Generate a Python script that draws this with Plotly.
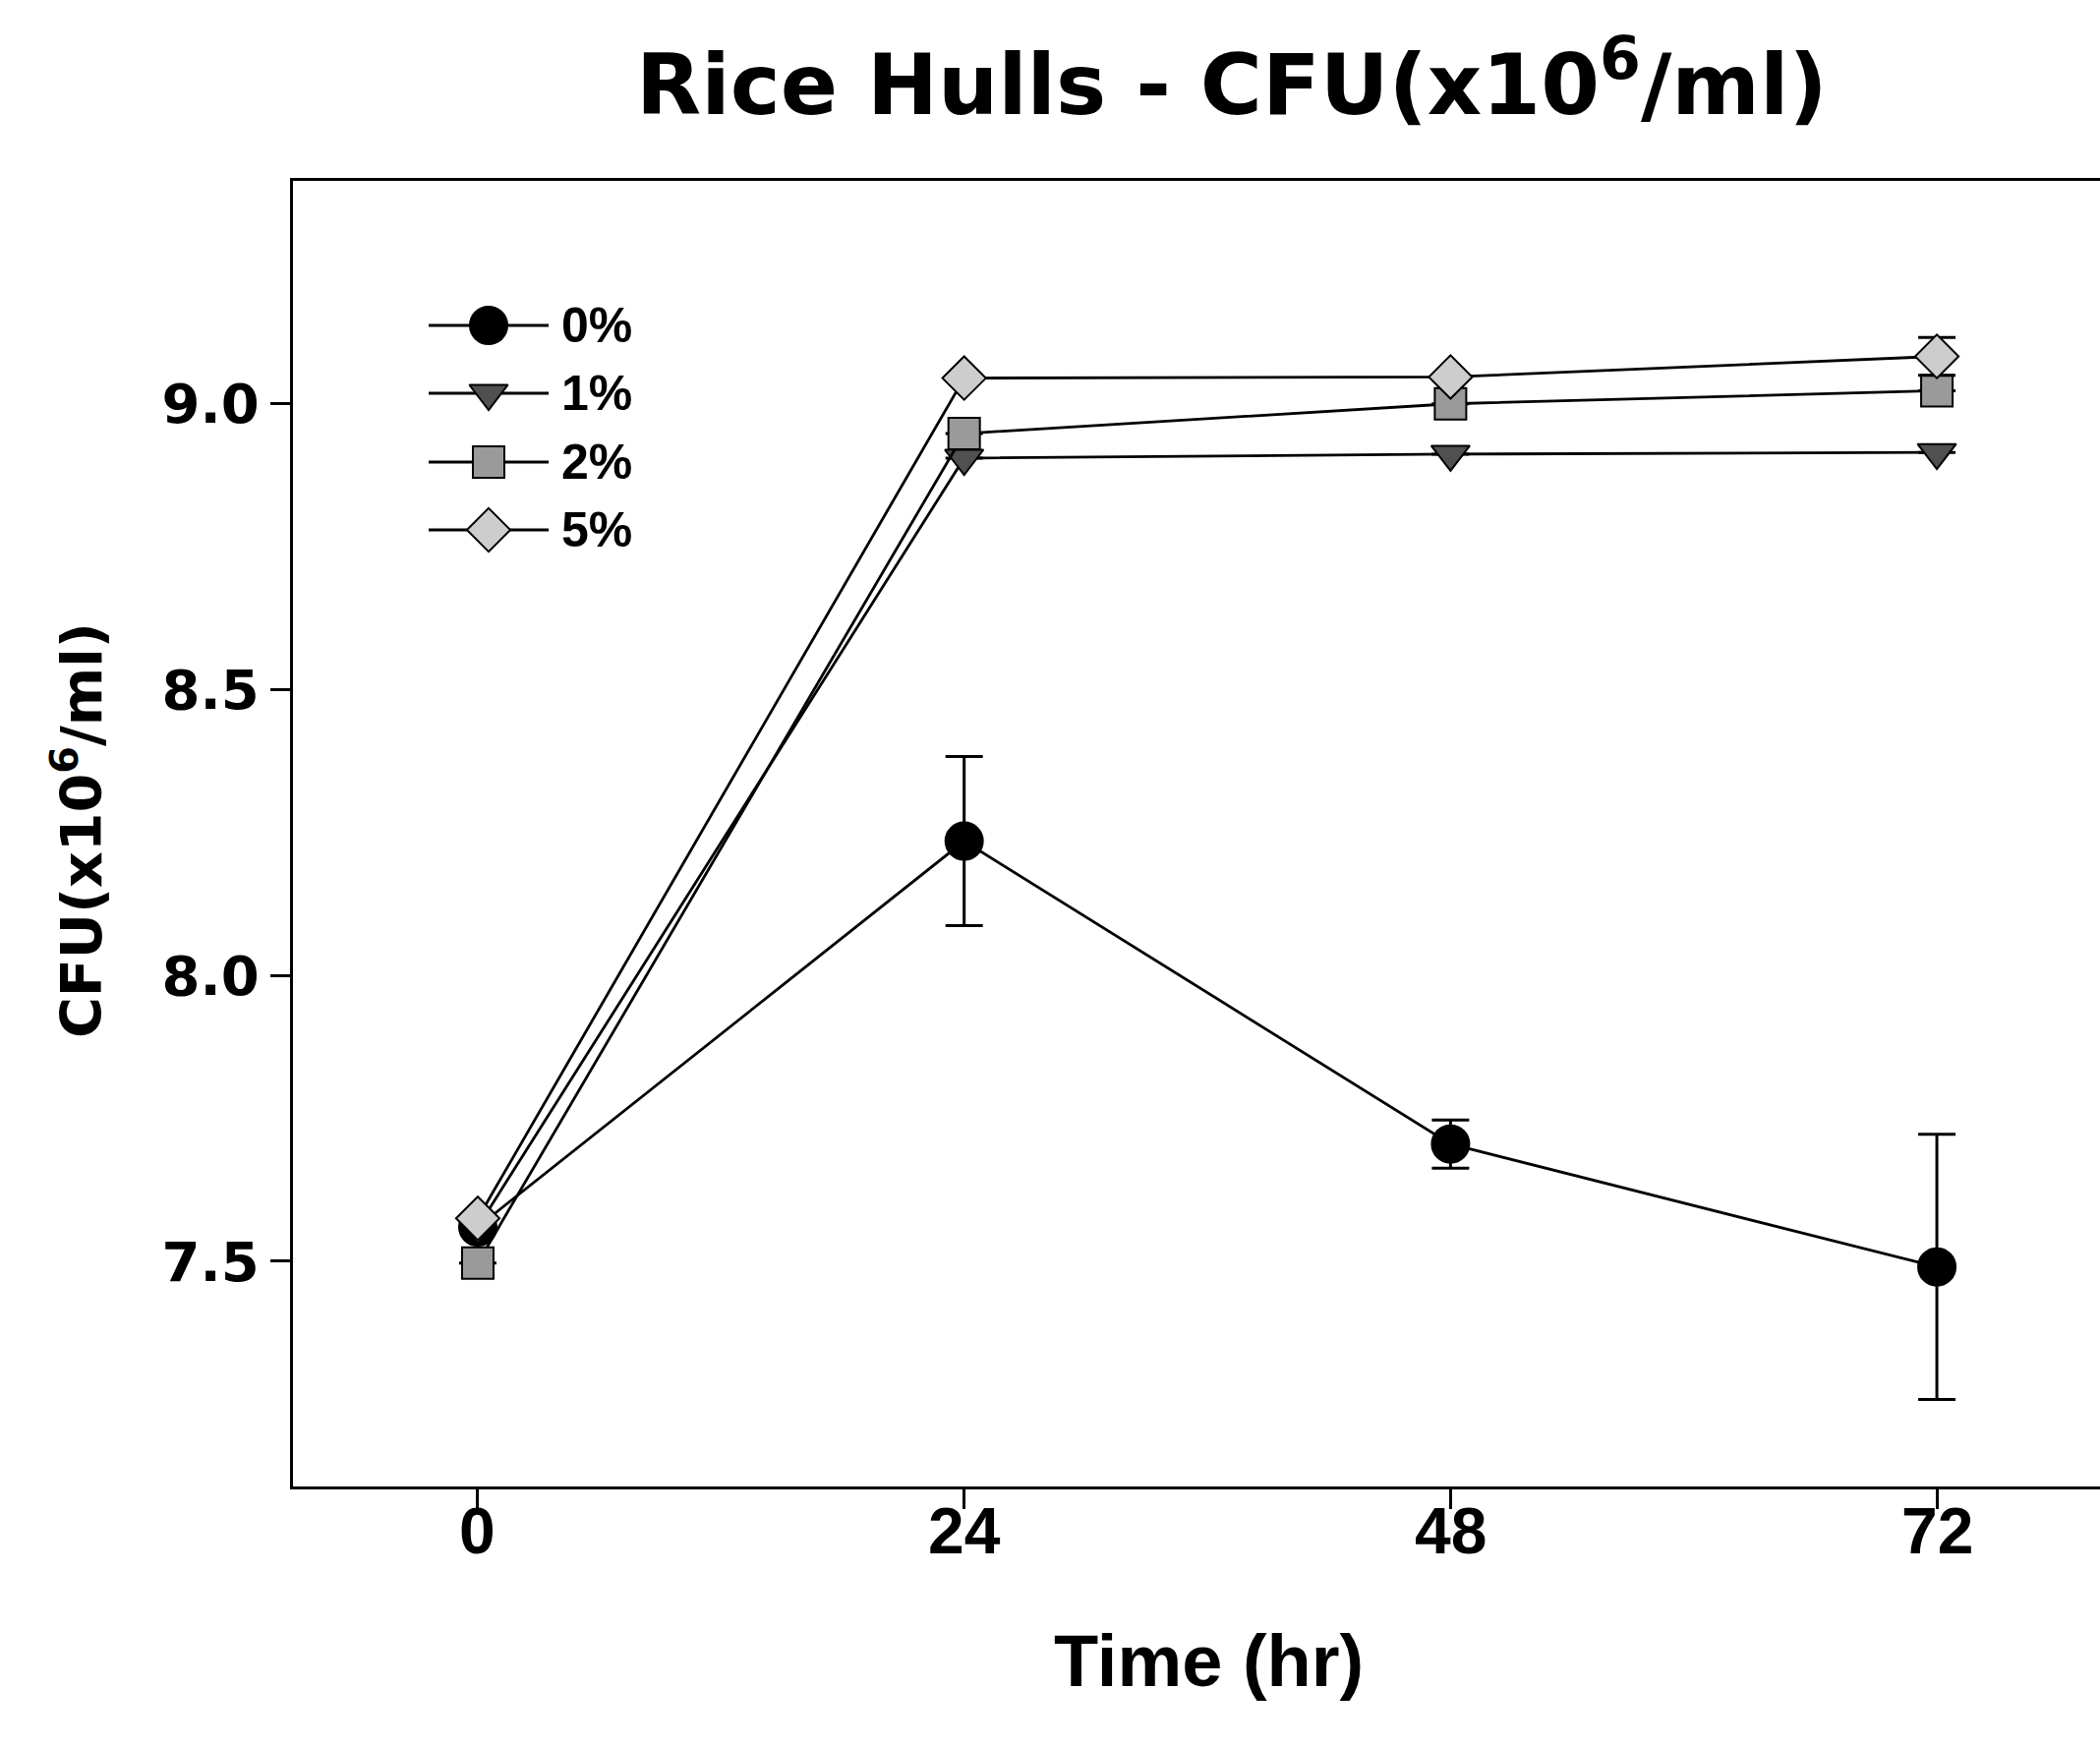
import plotly.graph_objects as go

# Sampling times (hr) and tick labels
time_hr = [0, 24, 48, 72]
x_tick_labels = ["0", "24", "48", "72"]
y_tick_vals = [7.5, 8.0, 8.5, 9.0]
y_tick_labels = ["7.5", "8.0", "8.5", "9.0"]

# CFU (x10^6/ml) per rice hull concentration
cfu_0pct = [7.56, 8.235, 7.705, 7.49]
err_0pct = [0.0, 0.148, 0.042, 0.232]
cfu_1pct = [7.56, 8.905, 8.912, 8.915]
err_1pct = [0.0, 0.0, 0.0, 0.0]
cfu_2pct = [7.497, 8.948, 9.0, 9.023]
err_2pct = [0.0, 0.0, 0.0, 0.0]
cfu_5pct = [7.575, 9.045, 9.047, 9.083]
err_5pct = [0.0, 0.0, 0.0, 0.033]

series_names = ["0%", "1%", "2%", "5%"]
series_values = [cfu_0pct, cfu_1pct, cfu_2pct, cfu_5pct]
series_errors = [err_0pct, err_1pct, err_2pct, err_5pct]
symbols = ["circle", "triangle-down", "square", "diamond"]
fills = ["#000000", "#505050", "#9a9a9a", "#cdcdcd"]
sizes = [38, 34, 32, 34]

W, H = 2136, 1777
L, R, T, B = 298, 0, 184, 265
plot_bottom = H - B
plot_w = W - L - R
plot_h = plot_bottom - T


def px_x(px):
    """Page pixel column -> paper x."""
    return (px - L) / plot_w


def px_y(py):
    """Page pixel row -> paper y."""
    return (plot_bottom - py) / plot_h


WIDE = "DejaVu Sans, Arial, sans-serif"
NARROW = "Liberation Sans, Arial, sans-serif"

fig = go.Figure()

for name, vals, errs, sym, fc, sz in zip(series_names, series_values, series_errors,
                                         symbols, fills, sizes):
    fig.add_trace(go.Scatter(
        x=time_hr, y=vals, name=name, mode="lines+markers",
        line=dict(color="black", width=2.8),
        marker=dict(symbol=sym, size=sz, color=fc,
                    line=dict(color="black", width=2)),
        error_y=dict(type="data", array=errs, visible=True,
                     color="black", thickness=3, width=19),
        showlegend=False,
    ))

# Legend drawn on a pixel-scaled overlay axis pair
legend_rows = [331, 400, 470, 539]
for name, sym, fc, sz, yy in zip(series_names, symbols, fills, sizes, legend_rows):
    fig.add_trace(go.Scatter(
        x=[436, 558], y=[yy, yy], mode="lines", xaxis="x2", yaxis="y2",
        line=dict(color="black", width=2.8), showlegend=False, hoverinfo="skip"))
    fig.add_trace(go.Scatter(
        x=[497], y=[yy], mode="markers", xaxis="x2", yaxis="y2",
        marker=dict(symbol=sym, size=sz, color=fc, line=dict(color="black", width=2)),
        showlegend=False, hoverinfo="skip"))
    fig.add_annotation(x=569, y=yy, xref="x2", yref="y2", text=f"<b>{name}</b>",
                       showarrow=False, xanchor="left", yanchor="middle",
                       font=dict(family=NARROW, size=50, color="black"))

# X tick labels
for tv, tl in zip(time_hr, x_tick_labels):
    fig.add_annotation(x=tv, y=px_y(1557), xref="x", yref="paper",
                       text=f"<b>{tl}</b>", showarrow=False,
                       xanchor="center", yanchor="middle",
                       font=dict(family=NARROW, size=66, color="black"))

# Title and axis titles
fig.add_annotation(x=px_x(1253), y=px_y(80), xref="paper", yref="paper",
                   text="<b>Rice Hulls - CFU(x10<sup>6</sup>/ml)</b>",
                   showarrow=False, xanchor="center", yanchor="middle",
                   font=dict(family=WIDE, size=86, color="black"))
fig.add_annotation(x=px_x(79), y=px_y(845), xref="paper", yref="paper",
                   text="<b>CFU(x10<sup>6</sup>/ml)</b>", textangle=-90,
                   showarrow=False, xanchor="center", yanchor="middle",
                   font=dict(family=WIDE, size=57, color="black"))
fig.add_annotation(x=px_x(1229), y=px_y(1689), xref="paper", yref="paper",
                   text="<b>Time (hr)</b>",
                   showarrow=False, xanchor="center", yanchor="middle",
                   font=dict(family=NARROW, size=74, color="black"))

fig.update_layout(
    width=W, height=H,
    margin=dict(l=L, r=R, t=T, b=B, pad=0),
    paper_bgcolor="white", plot_bgcolor="white",
    showlegend=False,
    xaxis=dict(range=[-9.12, 80.05], tickvals=time_hr, showticklabels=False,
               showgrid=False, zeroline=False, showline=True, linecolor="black",
               linewidth=3, mirror=True, ticks="outside", ticklen=20, tickwidth=3,
               tickcolor="black"),
    yaxis=dict(range=[7.106, 9.39], tickvals=y_tick_vals, ticktext=y_tick_labels,
               showgrid=False, zeroline=False, showline=True, linecolor="black",
               linewidth=3, ticks="outside", ticklen=20, tickwidth=3,
               tickcolor="black",
               tickfont=dict(family=WIDE, size=56, color="black", weight="bold")),
    xaxis2=dict(range=[L, W], overlaying="x", anchor="y2", visible=False,
                fixedrange=True),
    yaxis2=dict(range=[plot_bottom, T], overlaying="y", anchor="x2", visible=False,
                fixedrange=True),
)

fig.write_html("out.html")
